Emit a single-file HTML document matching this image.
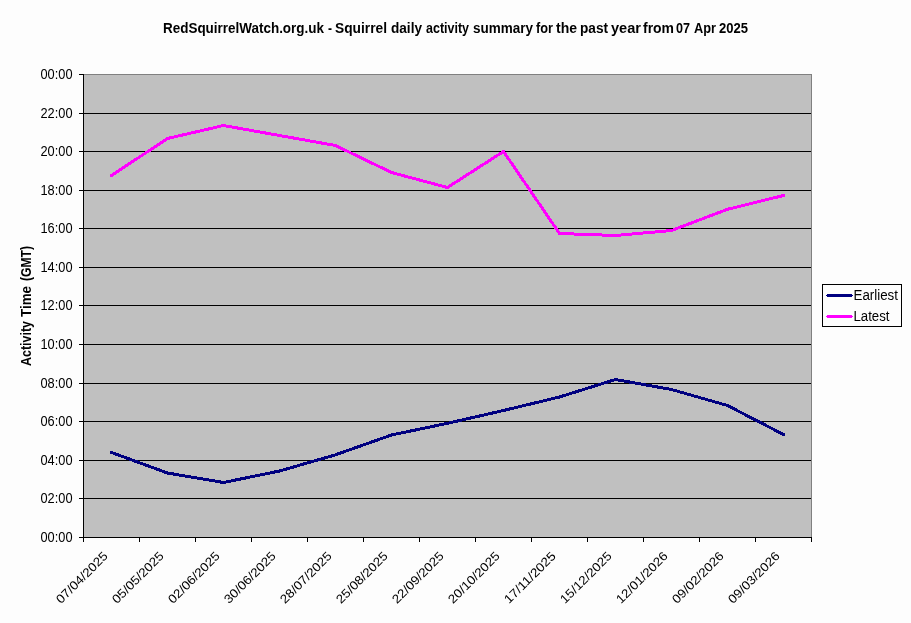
<!DOCTYPE html>
<html><head><meta charset="utf-8"><title>Squirrel activity chart</title>
<style>html,body{margin:0;padding:0;background:#fdfdfd;width:911px;height:623px;overflow:hidden;position:relative}</style>
</head><body>
<svg width="911" height="623" viewBox="0 0 911 623" style="position:absolute;left:0;top:0;will-change:transform">
<rect x="0" y="0" width="911" height="623" fill="#fdfdfd"/>
<rect x="83" y="74" width="728" height="463" fill="#c0c0c0"/>
<rect x="83" y="113" width="728" height="1" fill="#000"/>
<rect x="83" y="151" width="728" height="1" fill="#000"/>
<rect x="83" y="190" width="728" height="1" fill="#000"/>
<rect x="83" y="228" width="728" height="1" fill="#000"/>
<rect x="83" y="267" width="728" height="1" fill="#000"/>
<rect x="83" y="305" width="728" height="1" fill="#000"/>
<rect x="83" y="344" width="728" height="1" fill="#000"/>
<rect x="83" y="383" width="728" height="1" fill="#000"/>
<rect x="83" y="421" width="728" height="1" fill="#000"/>
<rect x="83" y="460" width="728" height="1" fill="#000"/>
<rect x="83" y="498" width="728" height="1" fill="#000"/>
<rect x="83" y="74" width="729" height="1" fill="#808080"/>
<rect x="811" y="74" width="1" height="463" fill="#808080"/>
<rect x="83" y="74" width="1" height="468" fill="#000"/>
<rect x="83" y="537" width="729" height="1" fill="#000"/>
<rect x="79" y="74" width="4" height="1" fill="#000"/>
<rect x="79" y="113" width="4" height="1" fill="#000"/>
<rect x="79" y="151" width="4" height="1" fill="#000"/>
<rect x="79" y="190" width="4" height="1" fill="#000"/>
<rect x="79" y="228" width="4" height="1" fill="#000"/>
<rect x="79" y="267" width="4" height="1" fill="#000"/>
<rect x="79" y="305" width="4" height="1" fill="#000"/>
<rect x="79" y="344" width="4" height="1" fill="#000"/>
<rect x="79" y="383" width="4" height="1" fill="#000"/>
<rect x="79" y="421" width="4" height="1" fill="#000"/>
<rect x="79" y="460" width="4" height="1" fill="#000"/>
<rect x="79" y="498" width="4" height="1" fill="#000"/>
<rect x="79" y="537" width="4" height="1" fill="#000"/>
<rect x="83" y="537" width="1" height="5" fill="#000"/>
<rect x="139" y="537" width="1" height="5" fill="#000"/>
<rect x="195" y="537" width="1" height="5" fill="#000"/>
<rect x="251" y="537" width="1" height="5" fill="#000"/>
<rect x="307" y="537" width="1" height="5" fill="#000"/>
<rect x="363" y="537" width="1" height="5" fill="#000"/>
<rect x="419" y="537" width="1" height="5" fill="#000"/>
<rect x="475" y="537" width="1" height="5" fill="#000"/>
<rect x="531" y="537" width="1" height="5" fill="#000"/>
<rect x="587" y="537" width="1" height="5" fill="#000"/>
<rect x="643" y="537" width="1" height="5" fill="#000"/>
<rect x="699" y="537" width="1" height="5" fill="#000"/>
<rect x="755" y="537" width="1" height="5" fill="#000"/>
<rect x="811" y="537" width="1" height="5" fill="#000"/>
<polyline points="111.5,452.5 167.5,473.0 223.5,482.5 279.5,471.0 335.5,454.8 391.5,435.0 447.5,423.3 503.5,410.5 559.5,397.0 615.5,379.5 671.5,389.5 727.5,405.5 783.5,434.5" fill="none" stroke="#000080" stroke-width="3" stroke-linejoin="round" stroke-linecap="round" shape-rendering="crispEdges"/>
<polyline points="111.5,175.5 167.5,138.5 223.5,125.5 279.5,135.5 335.5,145.5 391.5,172.5 447.5,187.5 503.5,151.5 559.5,233.5 615.5,235.5 671.5,230.5 727.5,209.3 783.5,195.5" fill="none" stroke="#ff00ff" stroke-width="3" stroke-linejoin="round" stroke-linecap="round" shape-rendering="crispEdges"/>
<text x="72.5" y="78.9" text-anchor="end" font-family='"Liberation Sans", sans-serif' font-size="14" textLength="32" lengthAdjust="spacingAndGlyphs" fill="#000">00:00</text>
<text x="72.5" y="117.9" text-anchor="end" font-family='"Liberation Sans", sans-serif' font-size="14" textLength="32" lengthAdjust="spacingAndGlyphs" fill="#000">22:00</text>
<text x="72.5" y="155.9" text-anchor="end" font-family='"Liberation Sans", sans-serif' font-size="14" textLength="32" lengthAdjust="spacingAndGlyphs" fill="#000">20:00</text>
<text x="72.5" y="194.9" text-anchor="end" font-family='"Liberation Sans", sans-serif' font-size="14" textLength="32" lengthAdjust="spacingAndGlyphs" fill="#000">18:00</text>
<text x="72.5" y="232.9" text-anchor="end" font-family='"Liberation Sans", sans-serif' font-size="14" textLength="32" lengthAdjust="spacingAndGlyphs" fill="#000">16:00</text>
<text x="72.5" y="271.9" text-anchor="end" font-family='"Liberation Sans", sans-serif' font-size="14" textLength="32" lengthAdjust="spacingAndGlyphs" fill="#000">14:00</text>
<text x="72.5" y="309.9" text-anchor="end" font-family='"Liberation Sans", sans-serif' font-size="14" textLength="32" lengthAdjust="spacingAndGlyphs" fill="#000">12:00</text>
<text x="72.5" y="348.9" text-anchor="end" font-family='"Liberation Sans", sans-serif' font-size="14" textLength="32" lengthAdjust="spacingAndGlyphs" fill="#000">10:00</text>
<text x="72.5" y="387.9" text-anchor="end" font-family='"Liberation Sans", sans-serif' font-size="14" textLength="32" lengthAdjust="spacingAndGlyphs" fill="#000">08:00</text>
<text x="72.5" y="425.9" text-anchor="end" font-family='"Liberation Sans", sans-serif' font-size="14" textLength="32" lengthAdjust="spacingAndGlyphs" fill="#000">06:00</text>
<text x="72.5" y="464.9" text-anchor="end" font-family='"Liberation Sans", sans-serif' font-size="14" textLength="32" lengthAdjust="spacingAndGlyphs" fill="#000">04:00</text>
<text x="72.5" y="502.9" text-anchor="end" font-family='"Liberation Sans", sans-serif' font-size="14" textLength="32" lengthAdjust="spacingAndGlyphs" fill="#000">02:00</text>
<text x="72.5" y="541.9" text-anchor="end" font-family='"Liberation Sans", sans-serif' font-size="14" textLength="32" lengthAdjust="spacingAndGlyphs" fill="#000">00:00</text>
<text x="108.6" y="556.8" text-anchor="end" transform="rotate(-45 108.6 556.8)" font-family='"Liberation Sans", sans-serif' font-size="12.3" textLength="67.2" lengthAdjust="spacingAndGlyphs" fill="#000">07/04/2025</text>
<text x="164.6" y="556.8" text-anchor="end" transform="rotate(-45 164.6 556.8)" font-family='"Liberation Sans", sans-serif' font-size="12.3" textLength="67.2" lengthAdjust="spacingAndGlyphs" fill="#000">05/05/2025</text>
<text x="220.6" y="556.8" text-anchor="end" transform="rotate(-45 220.6 556.8)" font-family='"Liberation Sans", sans-serif' font-size="12.3" textLength="67.2" lengthAdjust="spacingAndGlyphs" fill="#000">02/06/2025</text>
<text x="276.6" y="556.8" text-anchor="end" transform="rotate(-45 276.6 556.8)" font-family='"Liberation Sans", sans-serif' font-size="12.3" textLength="67.2" lengthAdjust="spacingAndGlyphs" fill="#000">30/06/2025</text>
<text x="332.6" y="556.8" text-anchor="end" transform="rotate(-45 332.6 556.8)" font-family='"Liberation Sans", sans-serif' font-size="12.3" textLength="67.2" lengthAdjust="spacingAndGlyphs" fill="#000">28/07/2025</text>
<text x="388.6" y="556.8" text-anchor="end" transform="rotate(-45 388.6 556.8)" font-family='"Liberation Sans", sans-serif' font-size="12.3" textLength="67.2" lengthAdjust="spacingAndGlyphs" fill="#000">25/08/2025</text>
<text x="444.6" y="556.8" text-anchor="end" transform="rotate(-45 444.6 556.8)" font-family='"Liberation Sans", sans-serif' font-size="12.3" textLength="67.2" lengthAdjust="spacingAndGlyphs" fill="#000">22/09/2025</text>
<text x="500.6" y="556.8" text-anchor="end" transform="rotate(-45 500.6 556.8)" font-family='"Liberation Sans", sans-serif' font-size="12.3" textLength="67.2" lengthAdjust="spacingAndGlyphs" fill="#000">20/10/2025</text>
<text x="556.6" y="556.8" text-anchor="end" transform="rotate(-45 556.6 556.8)" font-family='"Liberation Sans", sans-serif' font-size="12.3" textLength="67.2" lengthAdjust="spacingAndGlyphs" fill="#000">17/11/2025</text>
<text x="612.6" y="556.8" text-anchor="end" transform="rotate(-45 612.6 556.8)" font-family='"Liberation Sans", sans-serif' font-size="12.3" textLength="67.2" lengthAdjust="spacingAndGlyphs" fill="#000">15/12/2025</text>
<text x="668.6" y="556.8" text-anchor="end" transform="rotate(-45 668.6 556.8)" font-family='"Liberation Sans", sans-serif' font-size="12.3" textLength="67.2" lengthAdjust="spacingAndGlyphs" fill="#000">12/01/2026</text>
<text x="724.6" y="556.8" text-anchor="end" transform="rotate(-45 724.6 556.8)" font-family='"Liberation Sans", sans-serif' font-size="12.3" textLength="67.2" lengthAdjust="spacingAndGlyphs" fill="#000">09/02/2026</text>
<text x="780.6" y="556.8" text-anchor="end" transform="rotate(-45 780.6 556.8)" font-family='"Liberation Sans", sans-serif' font-size="12.3" textLength="67.2" lengthAdjust="spacingAndGlyphs" fill="#000">09/03/2026</text>
<text x="163.00" y="33" font-family='"Liberation Sans", sans-serif' font-size="14" textLength="161.00" lengthAdjust="spacingAndGlyphs" font-weight="bold" fill="#000">RedSquirrelWatch.org.uk</text>
<text x="328.00" y="33" font-family='"Liberation Sans", sans-serif' font-size="14" textLength="4.00" lengthAdjust="spacingAndGlyphs" font-weight="bold" fill="#000">-</text>
<text x="335.00" y="33" font-family='"Liberation Sans", sans-serif' font-size="14" textLength="52.00" lengthAdjust="spacingAndGlyphs" font-weight="bold" fill="#000">Squirrel</text>
<text x="391.00" y="33" font-family='"Liberation Sans", sans-serif' font-size="14" textLength="31.00" lengthAdjust="spacingAndGlyphs" font-weight="bold" fill="#000">daily</text>
<text x="426.00" y="33" font-family='"Liberation Sans", sans-serif' font-size="14" textLength="43.00" lengthAdjust="spacingAndGlyphs" font-weight="bold" fill="#000">activity</text>
<text x="473.00" y="33" font-family='"Liberation Sans", sans-serif' font-size="14" textLength="60.00" lengthAdjust="spacingAndGlyphs" font-weight="bold" fill="#000">summary</text>
<text x="536.00" y="33" font-family='"Liberation Sans", sans-serif' font-size="14" textLength="17.00" lengthAdjust="spacingAndGlyphs" font-weight="bold" fill="#000">for</text>
<text x="556.00" y="33" font-family='"Liberation Sans", sans-serif' font-size="14" textLength="21.00" lengthAdjust="spacingAndGlyphs" font-weight="bold" fill="#000">the</text>
<text x="580.00" y="33" font-family='"Liberation Sans", sans-serif' font-size="14" textLength="28.00" lengthAdjust="spacingAndGlyphs" font-weight="bold" fill="#000">past</text>
<text x="611.00" y="33" font-family='"Liberation Sans", sans-serif' font-size="14" textLength="30.00" lengthAdjust="spacingAndGlyphs" font-weight="bold" fill="#000">year</text>
<text x="643.00" y="33" font-family='"Liberation Sans", sans-serif' font-size="14" textLength="31.00" lengthAdjust="spacingAndGlyphs" font-weight="bold" fill="#000">from</text>
<text x="676.00" y="33" font-family='"Liberation Sans", sans-serif' font-size="14" textLength="14.00" lengthAdjust="spacingAndGlyphs" font-weight="bold" fill="#000">07</text>
<text x="694.00" y="33" font-family='"Liberation Sans", sans-serif' font-size="14" textLength="22.00" lengthAdjust="spacingAndGlyphs" font-weight="bold" fill="#000">Apr</text>
<text x="719.00" y="33" font-family='"Liberation Sans", sans-serif' font-size="14" textLength="29.00" lengthAdjust="spacingAndGlyphs" font-weight="bold" fill="#000">2025</text>
<text transform="translate(31 366.00) rotate(-90)" x="0" y="0" font-family='"Liberation Sans", sans-serif' font-size="14" textLength="45.00" lengthAdjust="spacingAndGlyphs" font-weight="bold" fill="#000">Activity</text>
<text transform="translate(31 317.00) rotate(-90)" x="0" y="0" font-family='"Liberation Sans", sans-serif' font-size="14" textLength="31.00" lengthAdjust="spacingAndGlyphs" font-weight="bold" fill="#000">Time</text>
<text transform="translate(31 281.00) rotate(-90)" x="0" y="0" font-family='"Liberation Sans", sans-serif' font-size="14" textLength="35.00" lengthAdjust="spacingAndGlyphs" font-weight="bold" fill="#000">(GMT)</text>
<rect x="822.5" y="284.5" width="79" height="42" fill="#fdfdfd" stroke="#000" stroke-width="1"/>
<path d="M827 294h25v3h-25zM826 295h27v1h-27z" fill="#000080"/>
<path d="M827 315h25v3h-25zM826 316h27v1h-27z" fill="#ff00ff"/>
<text x="853.5" y="300" font-family='"Liberation Sans", sans-serif' font-size="14" textLength="44.5" lengthAdjust="spacingAndGlyphs" fill="#000">Earliest</text>
<text x="853.5" y="321" font-family='"Liberation Sans", sans-serif' font-size="14" textLength="36" lengthAdjust="spacingAndGlyphs" fill="#000">Latest</text>
</svg>
</body></html>
